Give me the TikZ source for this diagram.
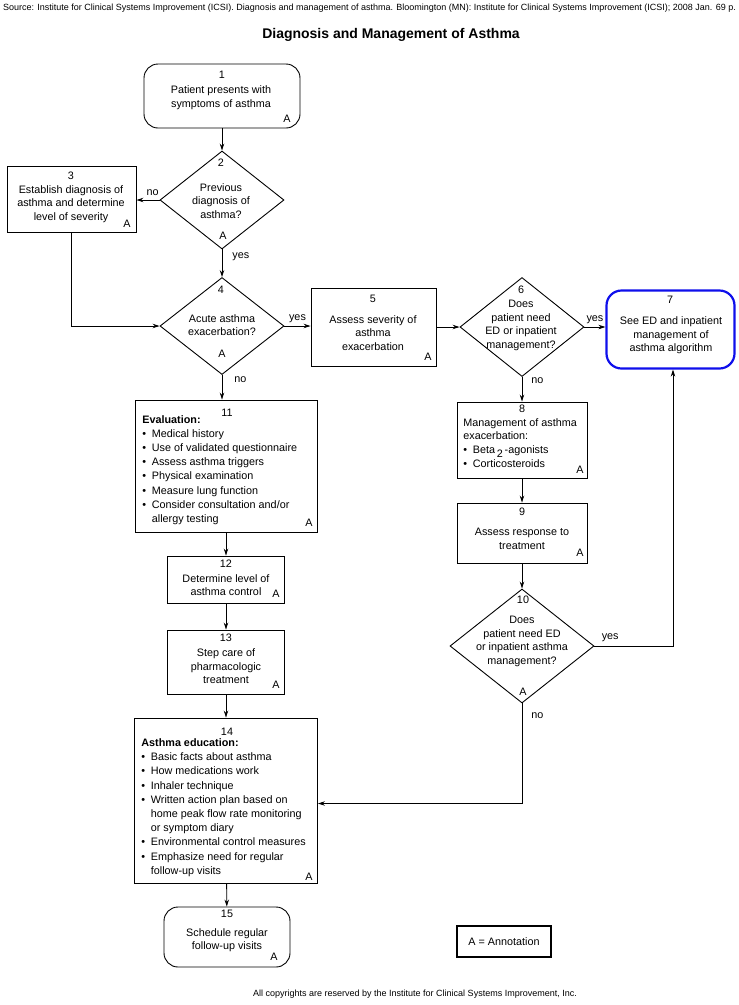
\documentclass[tikz,border=0pt]{standalone}
\usepackage{fontspec}
\setmainfont{Liberation Sans}
\usetikzlibrary{arrows.meta,shapes.geometric,positioning}
\definecolor{edblue}{RGB}{15,15,235}
\newcommand{\bul}{\makebox[9.5pt][l]{\textbullet}}
\newcommand{\ind}{\hspace*{9.5pt}}

\begin{document}
\begin{tikzpicture}[
	x=1pt, y=-1pt,
	>={Stealth[length=7pt,width=4.5pt]},
	line width=0.8pt,
	every node/.style={inner sep=0pt, font=\fontsize{10.8}{13.6}\selectfont},
	box/.style={draw, rectangle, line width=0.9pt},
	rbox/.style={box, rounded corners=14pt},
	dbox/.style={draw, diamond, line width=0.9pt},
	txt/.style={align=center},
	lst/.style={align=left, anchor=west, font=\fontsize{10.8}{14.2}\selectfont}
	]
	\useasboundingbox (0,0) rectangle (739,1005);

	% header and footer
	\node (src) at (369.5,8) {\fontsize{9}{10}\selectfont Source: Institute for Clinical Systems Improvement (ICSI). Diagnosis and management of asthma. Bloomington (MN): Institute for Clinical Systems Improvement (ICSI); 2008 Jan. 69 p.};
	\node (title) at (391,35) {\fontsize{14}{16}\selectfont\bfseries Diagnosis and Management of Asthma};
	\node (foot) at (415,994) {\fontsize{9}{10}\selectfont All copyrights are reserved by the Institute for Clinical Systems Improvement, Inc.};

	% shapes
	\node[rbox, minimum width=156pt, minimum height=64pt] (n1) at (222,96) {};
	\node[dbox, minimum width=124pt, minimum height=98pt] (d2) at (222,200) {};
	\node[box, minimum width=129pt, minimum height=66pt] (n3) at (71.5,199) {};
	\node[dbox, minimum width=124pt, minimum height=97pt] (d4) at (222,326) {};
	\node[box, minimum width=125pt, minimum height=78pt] (n5) at (373.5,327) {};
	\node[dbox, minimum width=124pt, minimum height=99pt] (d6) at (522,327) {};
	\node[rbox, draw=edblue, line width=2.2pt, rounded corners=15pt, minimum width=128pt, minimum height=78pt] (n7) at (670.5,329.5) {};
	\node[box, minimum width=130pt, minimum height=76pt] (n8) at (522,440) {};
	\node[box, minimum width=130pt, minimum height=60pt] (n9) at (522,533) {};
	\node[dbox, minimum width=144pt, minimum height=114pt] (d10) at (522,646) {};
	\node[box, minimum width=182pt, minimum height=132pt] (n11) at (226,466) {};
	\node[box, minimum width=117pt, minimum height=47pt] (n12) at (226,579.5) {};
	\node[box, minimum width=117pt, minimum height=64pt] (n13) at (226,662) {};
	\node[box, minimum width=183pt, minimum height=165pt] (n14) at (226,800.5) {};
	\node[rbox, minimum width=126pt, minimum height=60pt] (n15) at (227,937) {};
	\node[box, line width=2pt, minimum width=94pt, minimum height=31pt] (key) at (504,941.5) {A = Annotation};

	% numbers
	\node (k1) at (222,75) {1};
	\node (k2) at (221,163) {2};
	\node (k3) at (71,176) {3};
	\node (k4) at (221,290) {4};
	\node (k5) at (373,299) {5};
	\node (k6) at (521,290) {6};
	\node (k7) at (670,300) {7};
	\node (k8) at (522,409) {8};
	\node (k9) at (522,512) {9};
	\node (k10) at (523,600) {10};
	\node (k11) at (227,413) {11};
	\node (k12) at (226,564) {12};
	\node (k13) at (226,638) {13};
	\node (k14) at (227,732) {14};
	\node (k15) at (227,914) {15};

	% texts
	\node[txt] (t1) at (221,97.5) {Patient presents with\\symptoms of asthma};
	\node[txt] (t2) at (221,201) {Previous\\diagnosis of\\asthma?};
	\node[txt] (t3) at (71,204) {Establish diagnosis of\\asthma and determine\\level of severity};
	\node[txt] (t4) at (222,325) {Acute asthma\\exacerbation?};
	\node[txt] (t5) at (373,333) {Assess severity of\\asthma\\exacerbation};
	\node[txt] (t6) at (521,325.5) {Does\\patient need\\ED or inpatient\\management?};
	\node[txt] (t7) at (671,335.5) {See ED and inpatient\\management of\\asthma algorithm};
	\node[lst, font=\fontsize{10.8}{13.8}\selectfont] (t8) at (463,443) {Management of asthma\\exacerbation:\\
		\bul Beta\,\raisebox{-3.5pt}{2}\,-agonists\\
		\bul Corticosteroids};
	\node[txt] (t9) at (522,539) {Assess response to\\treatment};
	\node[txt] (t10) at (522,641.5) {Does\\patient need ED\\or inpatient asthma\\management?};
	\node[lst] (t11) at (142,470) {\textbf{Evaluation:}\\
		\bul Medical history\\
		\bul Use of validated questionnaire\\
		\bul Assess asthma triggers\\
		\bul Physical examination\\
		\bul Measure lung function\\
		\bul Consider consultation and/or\\
		\ind allergy testing};
	\node[txt] (t12) at (226,585) {Determine level of\\asthma control};
	\node[txt] (t13) at (226,666.5) {Step care of\\pharmacologic\\treatment};
	\node[lst] (t14) at (141,807.5) {\textbf{Asthma education:}\\
		\bul Basic facts about asthma\\
		\bul How medications work\\
		\bul Inhaler technique\\
		\bul Written action plan based on\\
		\ind home peak flow rate monitoring\\
		\ind or symptom diary\\
		\bul Environmental control measures\\
		\bul Emphasize need for regular\\
		\ind follow-up visits};
	\node[txt] (t15) at (227,940) {Schedule regular\\follow-up visits};

	% annotation marks
	\node (a1) at (287,119) {A};
	\node (a2) at (223,236) {A};
	\node (a3) at (127,224) {A};
	\node (a4) at (222,354) {A};
	\node (a5) at (428,357) {A};
	\node (a8) at (580,470) {A};
	\node (a9) at (580,553) {A};
	\node (a10) at (523,692) {A};
	\node (a11) at (309,523) {A};
	\node (a12) at (276,594) {A};
	\node (a13) at (276,685) {A};
	\node (a14) at (309,877) {A};
	\node (a15) at (274,957) {A};

	% connectors
	\begin{scope}[->]
		\draw (n1) -- (d2);
		\draw (d2.west) -- (d2.west -| n3.east) node[pos=0.3,above=4pt] (no2) {no};
		\draw (d2) -- (d4) node[pos=0.25,right=10pt] (yes2) {yes};
		\draw (n3.south) |- (d4.west);
		\draw (d4.east) -- (d4.east -| n5.west) node[midway,above=3pt] (yes4) {yes};
		\draw (n5.east) -- (d6.west);
		\draw (d6.east) -- (d6.east -| n7.west) node[midway,above=3pt] (yes6) {yes};
		\draw (d6) -- (n8) node[pos=0.15,right=9pt] (no6) {no};
		\draw (d4.south) -- (d4.south |- n11.north) node[pos=0.2,right=12pt] (no4) {no};
		\draw (n8) -- (n9);
		\draw (n9) -- (d10);
		\draw (d10.east) -| ([xshift=2.5pt]n7.south) node[pos=0.1,above=4pt] (yes10) {yes};
		\draw (d10.south) |- ([yshift=-3pt]n14.east) node[pos=0.06,right=9pt] (no10) {no};
		\draw (n11) -- (n12);
		\draw (n12) -- (n13);
		\draw (n13) -- (n14);
		\draw (n14) -- (n15);
	\end{scope}
\end{tikzpicture}
\end{document}
